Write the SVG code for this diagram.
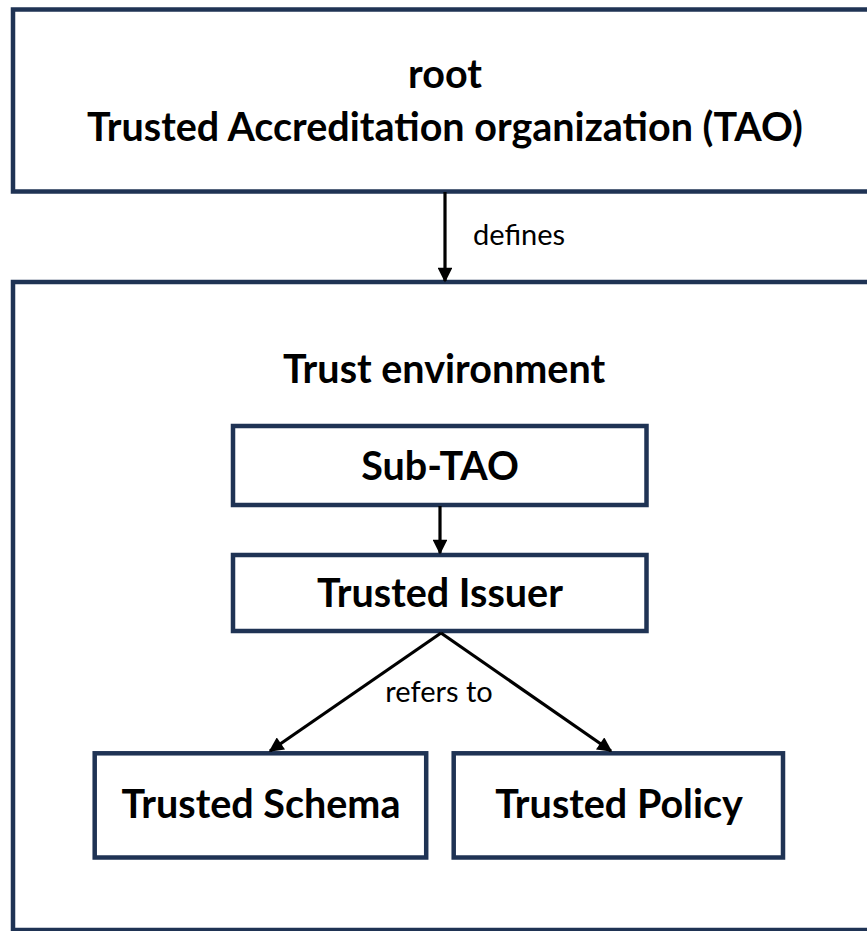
<svg xmlns="http://www.w3.org/2000/svg" width="867" height="931" viewBox="0 0 867 931">
  <style>
    .box { fill: #ffffff; stroke: #1f3354; stroke-width: 4.5; }
    .title { font-family: Lato, "Open Sans", sans-serif; font-weight: bold; fill: #000000; text-anchor: middle; font-size: 39.5px; }
    .lbl { font-family: Lato, "Open Sans", sans-serif; fill: #000000; font-size: 29px; }
    .edge { stroke: #000000; stroke-width: 3.2; fill: none; marker-end: url(#arrow); }
  </style>
  <defs>
    <marker id="arrow" viewBox="0 0 10 10" refX="9" refY="5" markerWidth="4.8" markerHeight="4.6" orient="auto" markerUnits="strokeWidth">
      <path d="M0,0 L10,5 L0,10 z" fill="#000000"/>
    </marker>
  </defs>
  <rect width="867" height="931" fill="#ffffff"/>

  <!-- top-level authority -->
  <g id="root-tao">
    <rect class="box" x="13" y="9.5" width="880" height="182"/>
    <text class="title" x="445" y="88">root</text>
    <text class="title" x="445" y="141">Trusted Accreditation organization (TAO)</text>
  </g>

  <!-- container for the trust chain -->
  <g id="trust-environment">
    <rect class="box" x="13" y="282" width="880" height="648"/>
    <text class="title" x="444" y="383">Trust environment</text>
  </g>

  <g id="sub-tao">
    <rect class="box" x="233" y="426" width="413.5" height="79"/>
    <text class="title" x="440" y="480">Sub-TAO</text>
  </g>

  <g id="trusted-issuer">
    <rect class="box" x="233" y="555" width="413.5" height="76"/>
    <text class="title" x="440" y="607">Trusted Issuer</text>
  </g>

  <g id="trusted-schema">
    <rect class="box" x="94.7" y="753.3" width="331.5" height="104.2"/>
    <text class="title" x="261" y="818">Trusted Schema</text>
  </g>

  <g id="trusted-policy">
    <rect class="box" x="453.7" y="753.3" width="329.3" height="104.2"/>
    <text class="title" x="619" y="818">Trusted Policy</text>
  </g>

  <g id="connectors">
    <line class="edge" x1="445" y1="192" x2="445" y2="281"/>
    <text class="lbl" x="473" y="245">defines</text>
    <line class="edge" x1="440" y1="506" x2="440" y2="553"/>
    <line class="edge" x1="441" y1="633" x2="270" y2="751"/>
    <line class="edge" x1="441" y1="633" x2="611" y2="751"/>
    <text class="lbl" x="439" y="702" text-anchor="middle">refers to</text>
  </g>
</svg>
